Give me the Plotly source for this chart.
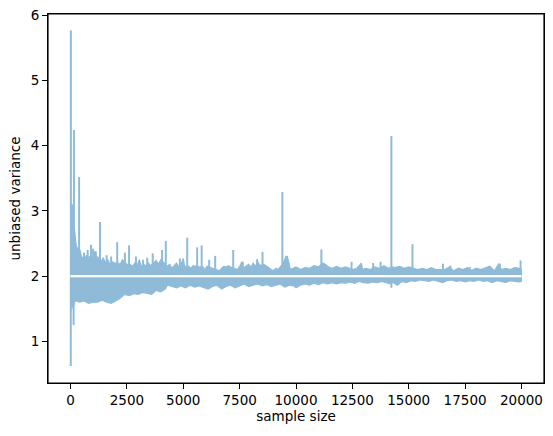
import plotly.graph_objects as go

# true variance reference level
true_var = 2.0

# upper envelope of the dense band (sample size, value), without the narrow spikes
up_n = [0, 100, 180, 220, 260, 330, 420, 480, 560, 640, 700, 760, 830, 900, 1000, 1080, 1130, 1200, 1350,
        1450, 1550, 1650, 1750, 1850, 1950, 2120, 2200, 2300, 2500, 2640, 2750, 2850, 2950, 3050, 3150,
        3250, 3350, 3450, 3550, 3700, 3800, 3900, 4000, 4150, 4280, 4400, 4500, 4600, 4700, 4800, 4900,
        5000, 5060, 5230, 5350, 5450, 5680, 5870, 5950, 6050, 6300, 6480, 6600, 6700, 6800, 6900, 7000,
        7100, 7270, 7400, 7500, 7600, 7650, 7800, 7900, 8000, 8100, 8200, 8300, 8400, 8570, 8700, 8800,
        8900, 9000, 9100, 9200, 9440, 9550, 9650, 9750, 9850, 10000, 10200, 10400, 10600, 10800, 11000,
        11180, 11300, 11450, 11600, 11800, 12000, 12200, 12520, 12700, 12900, 12950, 13100, 13300, 13500,
        13700, 13900, 14100, 14280, 14400, 14600, 14800, 15000, 15220, 15400, 15600, 15800, 16000, 16200,
        16600, 16800, 17000, 17200, 17400, 17600, 17800, 18000, 18200, 18400, 18600, 18800, 19000, 19100,
        19300, 19500, 19700, 19900, 20000]
up_v = [2.9, 2.95, 2.7, 2.55, 2.45, 2.42, 2.4, 2.3, 2.28, 2.25, 2.32, 2.22, 2.3, 2.3, 2.28, 2.38, 2.25, 2.3, 2.22,
        2.28, 2.2, 2.25, 2.18, 2.22, 2.2, 2.2, 2.18, 2.25, 2.18, 2.18, 2.15, 2.2, 2.16, 2.25, 2.14,
        2.18, 2.15, 2.2, 2.16, 2.2, 2.24, 2.18, 2.25, 2.2, 2.15, 2.18, 2.12, 2.16, 2.2, 2.14, 2.18,
        2.27, 2.15, 2.15, 2.12, 2.16, 2.14, 2.14, 2.1, 2.15, 2.12, 2.1, 2.08, 2.12, 2.15, 2.14, 2.16,
        2.14, 2.12, 2.1, 2.15, 2.22, 2.12, 2.16, 2.18, 2.14, 2.2, 2.15, 2.22, 2.16, 2.18, 2.15, 2.12,
        2.1, 2.08, 2.12, 2.1, 2.2, 2.3, 2.26, 2.1, 2.12, 2.14, 2.1, 2.13, 2.12, 2.16, 2.14,
        2.2, 2.18, 2.14, 2.12, 2.15, 2.12, 2.14, 2.1, 2.12, 2.2, 2.1, 2.12, 2.1, 2.14,
        2.12, 2.16, 2.12, 2.14, 2.13, 2.15, 2.12, 2.14, 2.12, 2.1, 2.12, 2.1, 2.13, 2.1,
        2.1, 2.14, 2.08, 2.12, 2.1, 2.13, 2.09, 2.12, 2.1, 2.13, 2.15, 2.08, 2.19, 2.1,
        2.12, 2.1, 2.13, 2.12, 2.1]

# narrow upward spikes (sample size, peak value)
spike_up_n = [15, 70, 150, 380, 600, 760, 910, 1000, 1120, 1305, 1600, 1800, 2070, 2410, 2595, 2900,
              3220, 3400, 3645, 4060, 4225, 4850, 5175, 5615, 5815, 6150, 6415, 7215, 7640, 8275, 8515,
              9395, 9600, 11125, 12465, 13420, 13750, 14230, 15165, 16520, 16850, 17700, 18590, 19040,
              19960]
spike_up_v = [5.77, 3.1, 4.24, 3.52, 2.36, 2.4, 2.48, 2.42, 2.38, 2.83, 2.32, 2.3, 2.52, 2.36, 2.47, 2.3,
              2.25, 2.28, 2.35, 2.40, 2.54, 2.27, 2.59, 2.44, 2.47, 2.25, 2.31, 2.40, 2.22, 2.26, 2.37,
              3.29, 2.31, 2.41, 2.22, 2.2, 2.22, 4.15, 2.49, 2.19, 2.16, 2.14, 2.15, 2.19,
              2.24]

# lower envelope of the dense band (sample size, value), without the narrow dips
lo_n = [0, 40, 55, 90, 110, 170, 250, 400, 600, 800, 1000, 1200, 1400, 1600, 1800, 2000, 2200,
        2400, 2600, 2800, 3000, 3200, 3400, 3600, 3800, 4000, 4200, 4300, 4500, 4700, 4900, 5100, 5300,
        5500, 5700, 5900, 6100, 6300, 6500, 6700, 6900, 7100, 7300, 7500, 7700, 7900, 8100, 8300, 8500,
        8700, 8900, 9100, 9300, 9500, 9700, 9900, 10000, 10200, 10400, 10600, 10800, 11000, 11200, 11400,
        11600, 11800, 12000, 12200, 12400, 12600, 12800, 13000, 13200, 13400, 13600, 13800, 14000, 14200,
        14300, 14500, 14700, 14900, 15100, 15300, 15500, 15700, 15900, 16100, 16300, 16500, 16700,
        16900, 17100, 17300, 17500, 17700, 17900, 18100, 18300, 18500, 18700, 18900, 19100, 19300, 19500,
        19700, 19900, 20000]
lo_v = [1.45, 1.55, 1.6, 1.55, 1.5, 1.6, 1.62, 1.6, 1.62, 1.58, 1.6, 1.6, 1.63, 1.6, 1.58, 1.62, 1.66,
        1.72, 1.7, 1.73, 1.72, 1.75, 1.74, 1.72, 1.78, 1.76, 1.8, 1.86, 1.84, 1.82, 1.85, 1.82, 1.86,
        1.83, 1.85, 1.82, 1.8, 1.84, 1.86, 1.8, 1.84, 1.86, 1.82, 1.85, 1.88, 1.84, 1.86, 1.88, 1.85,
        1.87, 1.84, 1.86, 1.88, 1.83, 1.86, 1.85, 1.82, 1.86, 1.88, 1.86, 1.89, 1.87, 1.9, 1.88,
        1.9, 1.88, 1.9, 1.89, 1.91, 1.89, 1.92, 1.9, 1.89, 1.91, 1.9, 1.92, 1.9, 1.88,
        1.9, 1.86, 1.92, 1.9, 1.93, 1.92, 1.94, 1.93, 1.92, 1.94, 1.92, 1.9, 1.93,
        1.94, 1.92, 1.93, 1.91, 1.93, 1.92, 1.94, 1.92, 1.93, 1.9, 1.93, 1.92, 1.9, 1.93,
        1.92, 1.91, 1.92]

# narrow downward dips (sample size, trough value)
spike_lo_n = [10, 135, 14230]
spike_lo_v = [0.62, 1.25, 1.82]

x_ticks = [0, 2500, 5000, 7500, 10000, 12500, 15000, 17500, 20000]
y_ticks = [1, 2, 3, 4, 5, 6]

band_color = "#8fbbd9"

fig = go.Figure()
fig.add_trace(go.Scatter(
    x=up_n + [up_n[-1], up_n[0]], y=up_v + [true_var, true_var],
    mode="lines", fill="toself", fillcolor=band_color,
    line=dict(color=band_color, width=1.2), hoverinfo="skip", showlegend=False))
fig.add_trace(go.Scatter(
    x=lo_n + [lo_n[-1], lo_n[0]], y=lo_v + [true_var, true_var],
    mode="lines", fill="toself", fillcolor=band_color,
    line=dict(color=band_color, width=1.2), hoverinfo="skip", showlegend=False))

# spikes and dips as thin vertical strokes from the reference level
sx, sy = [], []
for n, v in zip(spike_up_n + spike_lo_n, spike_up_v + spike_lo_v):
    sx += [n, n, None]
    sy += [true_var, v, None]
fig.add_trace(go.Scatter(x=sx, y=sy, mode="lines",
                         line=dict(color=band_color, width=2), hoverinfo="skip", showlegend=False))

fig.add_trace(go.Scatter(
    x=[up_n[0], up_n[-1]], y=[true_var, true_var],
    mode="lines", line=dict(color="white", width=2.3), hoverinfo="skip", showlegend=False))

axis_common = dict(
    showline=True, linecolor="#000000", linewidth=1, mirror=True,
    ticks="outside", ticklen=5, tickwidth=1, tickcolor="#000000",
    showgrid=False, zeroline=False, automargin=False,
    tickfont=dict(family="DejaVu Sans", size=13.5, color="black"),
)

fig.update_layout(
    width=553, height=436,
    margin=dict(l=48, r=9, t=14, b=53),
    paper_bgcolor="white", plot_bgcolor="white",
    font=dict(family="DejaVu Sans", size=13.5, color="black"),
    xaxis=dict(range=[-1000, 21000], tickvals=x_ticks, ticktext=[str(v) for v in x_ticks],
               title=dict(text="sample size", standoff=4, font=dict(size=13.5)), **axis_common),
    yaxis=dict(range=[0.36, 6.02], tickvals=y_ticks, ticktext=[str(v) for v in y_ticks],
               title=dict(text="unbiased variance", standoff=6, font=dict(size=13.5)), **axis_common),
    shapes=[dict(type="rect", xref="paper", yref="paper", x0=0, x1=1, y0=0, y1=1,
                 line=dict(color="#000000", width=1.2), layer="above")],
)

fig.write_html("out.html", config={"displayModeBar": False},
               post_script="document.body.style.margin='0';document.body.style.overflow='hidden';")
